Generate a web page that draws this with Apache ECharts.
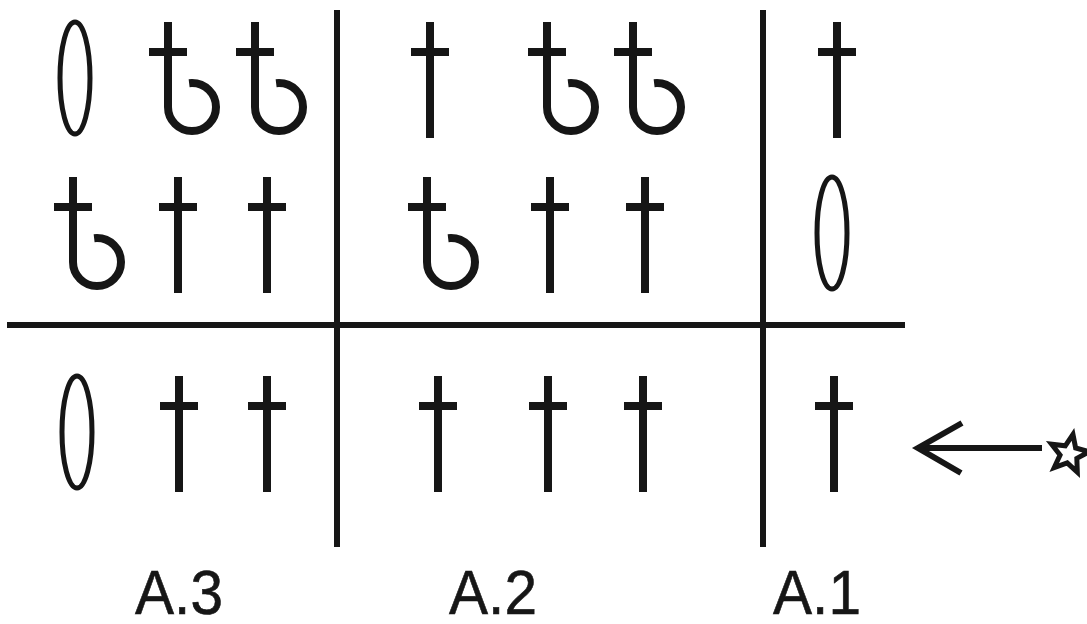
<!DOCTYPE html>
<html>
<head>
<meta charset="utf-8">
<script src="https://cdn.jsdelivr.net/npm/echarts@6/dist/echarts.min.js"></script>
<style>
  html, body { margin: 0; padding: 0; background: #fff; }
  #chart { width: 1087px; height: 624px; }
</style>
</head>
<body>
<div id="chart"></div>
<script>
// group names under each block
var groupLabels = ['A.3', 'A.2', 'A.1'];
var labelX = [179, 493, 817];
var labelY = 597;

// centre line of each glyph row
var rowY = [80, 235, 434];
// glyphs of each row: [kind, x]
var rowGlyphs = [
  [['oval', 75], ['hook', 168], ['hook', 255], ['dagger', 430], ['hook', 547], ['hook', 633], ['dagger', 837]],
  [['hook', 73], ['dagger', 178], ['dagger', 267], ['hook', 427], ['dagger', 550], ['dagger', 645], ['oval', 832]],
  [['oval', 77], ['dagger', 179], ['dagger', 267], ['dagger', 438], ['dagger', 548], ['dagger', 643], ['dagger', 834]]
];

// divider rules: [x1, y1, x2, y2]
var dividers = [
  [337, 10, 337, 547],
  [763, 10, 763, 547],
  [7, 325, 905, 325]
];

// pointer on the bottom row
var arrowFrom = [1042, 448];
var arrowTo = [918, 448];
var starAt = [1069, 454];

var INK = '#161616';
var kinds = ['oval', 'dagger', 'hook'];

var glyphData = [];
rowGlyphs.forEach(function (row, r) {
  row.forEach(function (g) {
    glyphData.push([g[1], rowY[r], kinds.indexOf(g[0])]);
  });
});

function renderGlyph(params, api) {
  var p = api.coord([api.value(0), api.value(1)]);
  var cx = p[0], cy = p[1];
  var kind = kinds[api.value(2)];
  var w = 8;
  if (kind === 'oval') {
    return {
      type: 'ellipse',
      shape: { cx: cx, cy: cy - 2, rx: 15, ry: 56 },
      style: { fill: 'none', stroke: INK, lineWidth: 5 }
    };
  }
  var children = [
    { type: 'line', shape: { x1: cx - 19, y1: cy - 28, x2: cx + 19, y2: cy - 28 }, style: { stroke: INK, lineWidth: w } }
  ];
  if (kind === 'dagger') {
    children.push({ type: 'line', shape: { x1: cx, y1: cy - 58, x2: cx, y2: cy + 58 }, style: { stroke: INK, lineWidth: w } });
  } else {
    children.push({ type: 'line', shape: { x1: cx, y1: cy - 58, x2: cx, y2: cy + 27 }, style: { stroke: INK, lineWidth: w } });
    children.push({
      type: 'arc',
      shape: { cx: cx + 24, cy: cy + 27, r: 24, startAngle: Math.PI, endAngle: -Math.PI / 2 - 0.12, clockwise: false },
      style: { fill: 'none', stroke: INK, lineWidth: w }
    });
  }
  return { type: 'group', children: children };
}

function renderRule(params, api) {
  var a = api.coord([api.value(0), api.value(1)]);
  var b = api.coord([api.value(2), api.value(3)]);
  return {
    type: 'line',
    shape: { x1: a[0], y1: a[1], x2: b[0], y2: b[1] },
    style: { stroke: INK, lineWidth: 6 }
  };
}

function renderLabel(params, api) {
  var p = api.coord([api.value(0), api.value(1)]);
  return {
    type: 'text',
    x: p[0],
    y: p[1],
    scaleX: 0.93,
    style: {
      text: groupLabels[params.dataIndex],
      fontFamily: 'Liberation Sans, Arial, sans-serif',
      fontSize: 63,
      fill: INK,
      stroke: INK,
      lineWidth: 0.6,
      align: 'center',
      verticalAlign: 'middle'
    }
  };
}

function renderPointer(params, api) {
  var a = api.coord(arrowFrom);
  var b = api.coord(arrowTo);
  var s = api.coord(starAt);
  var pts = [];
  for (var i = 0; i < 10; i++) {
    var ang = -Math.PI / 2 + 0.2 + i * Math.PI / 5;
    var r = i % 2 === 0 ? 20 : 9;
    pts.push([s[0] + r * Math.cos(ang), s[1] + r * Math.sin(ang)]);
  }
  return {
    type: 'group',
    children: [
      { type: 'line', shape: { x1: a[0], y1: a[1], x2: b[0] + 2, y2: b[1] }, style: { stroke: INK, lineWidth: 6 } },
      {
        type: 'polyline',
        shape: { points: [[b[0] + 44, b[1] - 25], [b[0], b[1]], [b[0] + 43, b[1] + 25]] },
        style: { fill: 'none', stroke: INK, lineWidth: 6, lineJoin: 'miter' }
      },
      {
        type: 'polygon',
        shape: { points: pts },
        style: { fill: '#fff', stroke: INK, lineWidth: 5, lineJoin: 'miter' }
      }
    ]
  };
}

var chart = echarts.init(document.getElementById('chart'));

var option = {
  animation: false,
  backgroundColor: '#fff',
  grid: { left: 0, right: 0, top: 0, bottom: 0 },
  xAxis: { type: 'value', min: 0, max: 1087, show: false },
  yAxis: { type: 'value', min: 0, max: 624, inverse: true, show: false },
  series: [
    {
      type: 'custom',
      name: 'rules',
      renderItem: renderRule,
      encode: { x: [0, 2], y: [1, 3] },
      data: dividers
    },
    {
      type: 'custom',
      name: 'glyphs',
      renderItem: renderGlyph,
      encode: { x: 0, y: 1 },
      data: glyphData
    },
    {
      type: 'custom',
      name: 'labels',
      renderItem: renderLabel,
      encode: { x: 0, y: 1 },
      data: labelX.map(function (x) { return [x, labelY]; })
    },
    {
      type: 'custom',
      name: 'pointer',
      renderItem: renderPointer,
      encode: { x: 0, y: 1 },
      data: [arrowTo]
    }
  ]
};

chart.setOption(option);
</script>
</body>
</html>
